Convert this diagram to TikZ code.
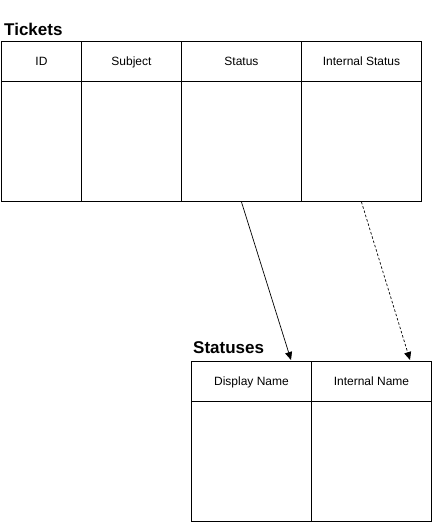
\documentclass[tikz,border=0pt]{standalone}
\usepackage{fontspec}
\setmainfont{Liberation Sans}
\usetikzlibrary{arrows.meta}
\begin{document}
\begin{tikzpicture}[x=1pt,y=-1pt,
  cell/.style={draw=black,line width=0.9pt,minimum height=40pt,inner sep=0pt,text height=10pt,text depth=1.5pt,anchor=north west,font=\fontsize{12}{14}\selectfont},
  bodycell/.style={draw=black,line width=0.9pt,minimum height=120pt,inner sep=0pt,anchor=north west},
  title/.style={font=\fontsize{17}{20}\bfseries\selectfont,anchor=base west,inner sep=0pt},
  link/.style={line width=0.7pt,-{Triangle[length=8pt,width=7pt]}}]
\useasboundingbox (0,0) rectangle (433,523);
% Tickets
\node[title] (t1) at (4,35) {Tickets};
\node[cell,minimum width=80pt] (id) at (1,41) {ID};
\node[cell,minimum width=100pt] (subj) at (81,41) {Subject};
\node[cell,minimum width=120pt] (stat) at (181,41) {Status};
\node[cell,minimum width=120pt] (istat) at (301,41) {Internal Status};
\node[bodycell,minimum width=80pt] (idb) at (1,81) {};
\node[bodycell,minimum width=100pt] (subjb) at (81,81) {};
\node[bodycell,minimum width=120pt] (statb) at (181,81) {};
\node[bodycell,minimum width=120pt] (istatb) at (301,81) {};
% Statuses
\node[title] (t2) at (193,353) {Statuses};
\node[cell,minimum width=120pt] (dn) at (191,361) {Display Name};
\node[cell,minimum width=120pt] (in) at (311,361) {Internal Name};
\node[bodycell,minimum width=120pt] (dnb) at (191,401) {};
\node[bodycell,minimum width=120pt] (inb) at (311,401) {};
\coordinate (e1) at (291,360);
\coordinate (e2) at (410,360);
\draw[link] (statb.south) -- (e1);
\draw[link,dashed,dash pattern=on 2.5pt off 2pt] (istatb.south) -- (e2);
\end{tikzpicture}
\end{document}
